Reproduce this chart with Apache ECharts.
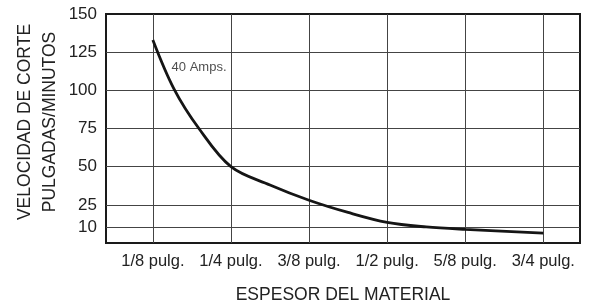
<!DOCTYPE html>
<html>
<head>
<meta charset="utf-8">
<script src="https://cdn.jsdelivr.net/npm/echarts@6/dist/echarts.min.js"></script>
<style>html,body{margin:0;padding:0;background:#fff}#c{width:590px;height:306px}</style>
</head>
<body>
<div id="c"></div>
<script>
// Categories (material thickness) at positions 1..6
const xLabels = ['1/8 pulg.', '1/4 pulg.', '3/8 pulg.', '1/2 pulg.', '5/8 pulg.', '3/4 pulg.'];
const xPositions = [1, 2, 3, 4, 5, 6];
// Y tick labels
const yTicks = [10, 25, 50, 75, 100, 125, 150];
// Curve points [x position, speed]
const curveX = [1, 1.27, 1.59, 2, 2.5, 3, 3.5, 4, 4.5, 5, 6];
const curveY = [133, 101, 75, 50, 38, 28, 20, 13.5, 10.5, 8.9, 6.5];
const annotation = { text: '40 Amps.', x: 1.24, y: 115 };
const yTitle = 'VELOCIDAD DE CORTE\nPULGADAS/MINUTOS';
const xTitle = 'ESPESOR DEL MATERIAL';
const fontFam = '"Liberation Sans", Arial, sans-serif';

const chart = echarts.init(document.getElementById('c'), null, { renderer: 'canvas' });
chart.setOption({
  animation: false,
  backgroundColor: '#fff',
  grid: { left: 106, top: 14, right: 10, bottom: 63, outerBoundsMode: 'none', containLabel: false, show: true, borderColor: '#1a1a1a', borderWidth: 2, backgroundColor: 'transparent' },
  graphic: [{
    type: 'text', x: 38, y: 122, rotation: Math.PI / 2,
    style: { text: yTitle, align: 'center', verticalAlign: 'middle', fontFamily: fontFam, fontSize: 17.5, lineHeight: 25, fill: '#222' }
  }],
  xAxis: {
    type: 'value', min: 0.4, max: 6.47,
    name: xTitle, nameLocation: 'middle', nameGap: 43,
    nameTextStyle: { fontFamily: fontFam, fontSize: 17.5, color: '#222' },
    axisLine: { show: false }, axisTick: { show: false }, splitLine: { show: false },
    axisLabel: {
      customValues: xPositions, margin: 10,
      fontFamily: fontFam, fontSize: 16.5, color: '#222',
      formatter: v => xLabels[Math.round(v) - 1] || ''
    }
  },
  yAxis: {
    type: 'value', min: 0, max: 150,
    axisLine: { show: false }, axisTick: { show: false }, splitLine: { show: false },
    axisLabel: { customValues: yTicks, margin: 9, fontFamily: fontFam, fontSize: 17, color: '#222' }
  },
  series: [
    {
      type: 'line', data: [], silent: true, z: 1,
      markLine: {
        silent: true, symbol: 'none', label: { show: false },
        lineStyle: { type: 'solid', color: '#444', width: 1 },
        data: yTicks.filter(v => v < 150).map(v => ({ yAxis: v })).concat(xPositions.map(v => ({ xAxis: v })))
      }
    },
    {
      type: 'line', smooth: 0.35, symbol: 'none', z: 5,
      lineStyle: { color: '#151515', width: 2.8 },
      data: curveX.map((x, i) => [x, curveY[i]])
    },
    {
      type: 'scatter', symbolSize: 0, z: 6,
      data: [[annotation.x, annotation.y]],
      label: { show: true, position: 'right', distance: 0, formatter: annotation.text, fontFamily: fontFam, fontSize: 13, color: '#222' }
    }
  ]
});
</script>
</body>
</html>
